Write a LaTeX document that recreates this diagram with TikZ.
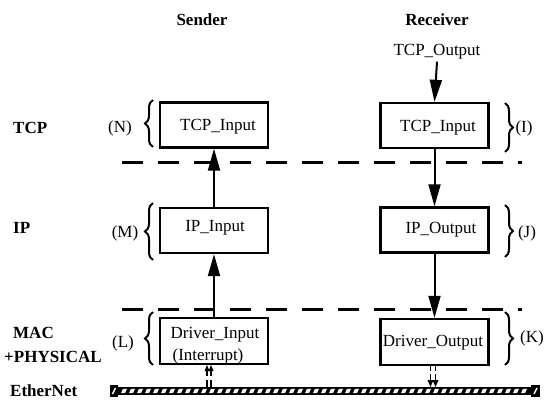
\documentclass[tikz,border=0pt]{standalone}
\usepackage{fontspec}
\setmainfont{Liberation Serif}
\usetikzlibrary{arrows.meta,decorations.pathreplacing}
\begin{document}
\begin{tikzpicture}[x=1pt,y=-1pt,
  every node/.style={font=\fontsize{17}{19}\selectfont, inner sep=0pt},
  layerbox/.style={draw, line width=2.4pt, minimum width=108pt, minimum height=45pt},
  hdr/.style={font=\fontsize{17}{19}\selectfont\bfseries},
  lyr/.style={font=\fontsize{17}{19}\selectfont\bfseries, anchor=west},
  flow/.style={line width=2pt, -{Triangle[length=22pt,width=12pt]}},
  divider/.style={line width=3pt, dash pattern=on 21pt off 15pt},
  grp/.style={line width=2pt, decorate, decoration={brace, amplitude=8pt}},
  tip/.style={fill=black}]
\useasboundingbox (0,0) rectangle (546,403);

% column headers
\node[hdr] (sender) at (202,20) {Sender};
\node[hdr] (receiver) at (437,20) {Receiver};
\node (tcpout) at (437,52) {TCP\_Output};

% layer names
\node[lyr] (ltcp) at (13,128) {TCP};
\node[lyr] (lip) at (13,228) {IP};
\node[lyr] (lmac) at (13,333) {MAC};
\node[lyr] (lphy) at (4,357) {+PHYSICAL};
\node[lyr] (leth) at (10,391) {EtherNet};

% sender stack
\node[layerbox] (stcp) at (214,125) {};
\node (stcpt) at (218,127) {TCP\_Input};
\node[layerbox] (sip) at (214,230.5) {};
\node (sipt) at (215,228) {IP\_Input};
\node[layerbox, minimum height=46pt] (sdrv) at (214,341) {};
\node (sdrvt1) at (215,335) {Driver\_Input};
\node (sdrvt2) at (208,356) {(Interrupt)};

% receiver stack
\node[layerbox] (rtcp) at (434.5,125.5) {};
\node (rtcpt) at (438,128) {TCP\_Input};
\node[layerbox] (rip) at (434.5,230) {};
\node (ript) at (441,230) {IP\_Output};
\node[layerbox, minimum height=46pt] (rdrv) at (434.5,342) {};
\node (rdrvt) at (433,343) {Driver\_Output};

% layer dividers
\coordinate (d1a) at (122,163);
\coordinate (d1b) at (522,163);
\coordinate (d2a) at (122,309);
\coordinate (d2b) at (522,309);
\draw[divider] (d1a) -- (d1b);
\draw[divider] (d2a) -- (d2b);

% data flow
\draw[flow] (sdrv.north) -- (sip.south);
\draw[flow] (sip.north) -- (stcp.south);
\draw[flow] (tcpout.south) ++(0,2) coordinate (tcpoutb) -- (rtcp.north);
\draw[flow] (rtcp.south) -- (rip.north);
\draw[flow] (rip.south) -- (rdrv.north);

% braces and their labels
\draw[grp] (153,147) -- (153,100);
\draw[grp] (153,260) -- (153,203);
\draw[grp] (153,365) -- (153,312);
\draw[grp] (505,103) -- (505,152);
\draw[grp] (505,205) -- (505,257);
\draw[grp] (505,312) -- (505,365);
\node (ln) at (120,128) {(N)};
\node (lm) at (125,233) {(M)};
\node (ll) at (123,343) {(L)};
\node (li) at (524,128) {(I)};
\node (lj) at (527,233) {(J)};
\node (lk) at (532,338) {(K)};

% EtherNet bus
\fill (118,387) rectangle (531,395);
\foreach \x in {121,129,...,525}
  \fill[white] (\x,393.2) -- (\x+4,393.2) -- (\x+6,388.8) -- (\x+2,388.8) -- cycle;
\fill (110,385) rectangle (118,397);
\fill (531,385) rectangle (540,397);
\draw[white, line width=1.4pt] (112.5,394) -- (115.5,388);
\draw[white, line width=1.4pt] (534,394) -- (537,388);
\coordinate (busS) at (209,387);
\coordinate (busR) at (433,387);

% interrupt path: bus up to Driver_Input
\foreach \dx in {-2,2} {
  \draw[line width=1.6pt] ([xshift=\dx pt]busS) -- ++(0,-7);
  \draw[line width=1.6pt] ([xshift=\dx pt]busS) ++(0,-11) -- ++(0,-9);
  \fill[tip] ([xshift=\dx pt]busS) ++(0,-22) -- ++(-2.5,6) -- ++(5,0) -- cycle;
}
% transmit path: Driver_Output down to bus
\foreach \dx in {-2.5,2.5} {
  \draw[line width=1.6pt] ([xshift=\dx pt]busR) ++(0,-22) -- ++(0,6);
  \draw[line width=1.6pt] ([xshift=\dx pt]busR) ++(0,-13) -- ++(0,6);
  \fill[tip] ([xshift=\dx pt]busR) -- ++(-3,-7) -- ++(6,0) -- cycle;
}
\end{tikzpicture}
\end{document}
